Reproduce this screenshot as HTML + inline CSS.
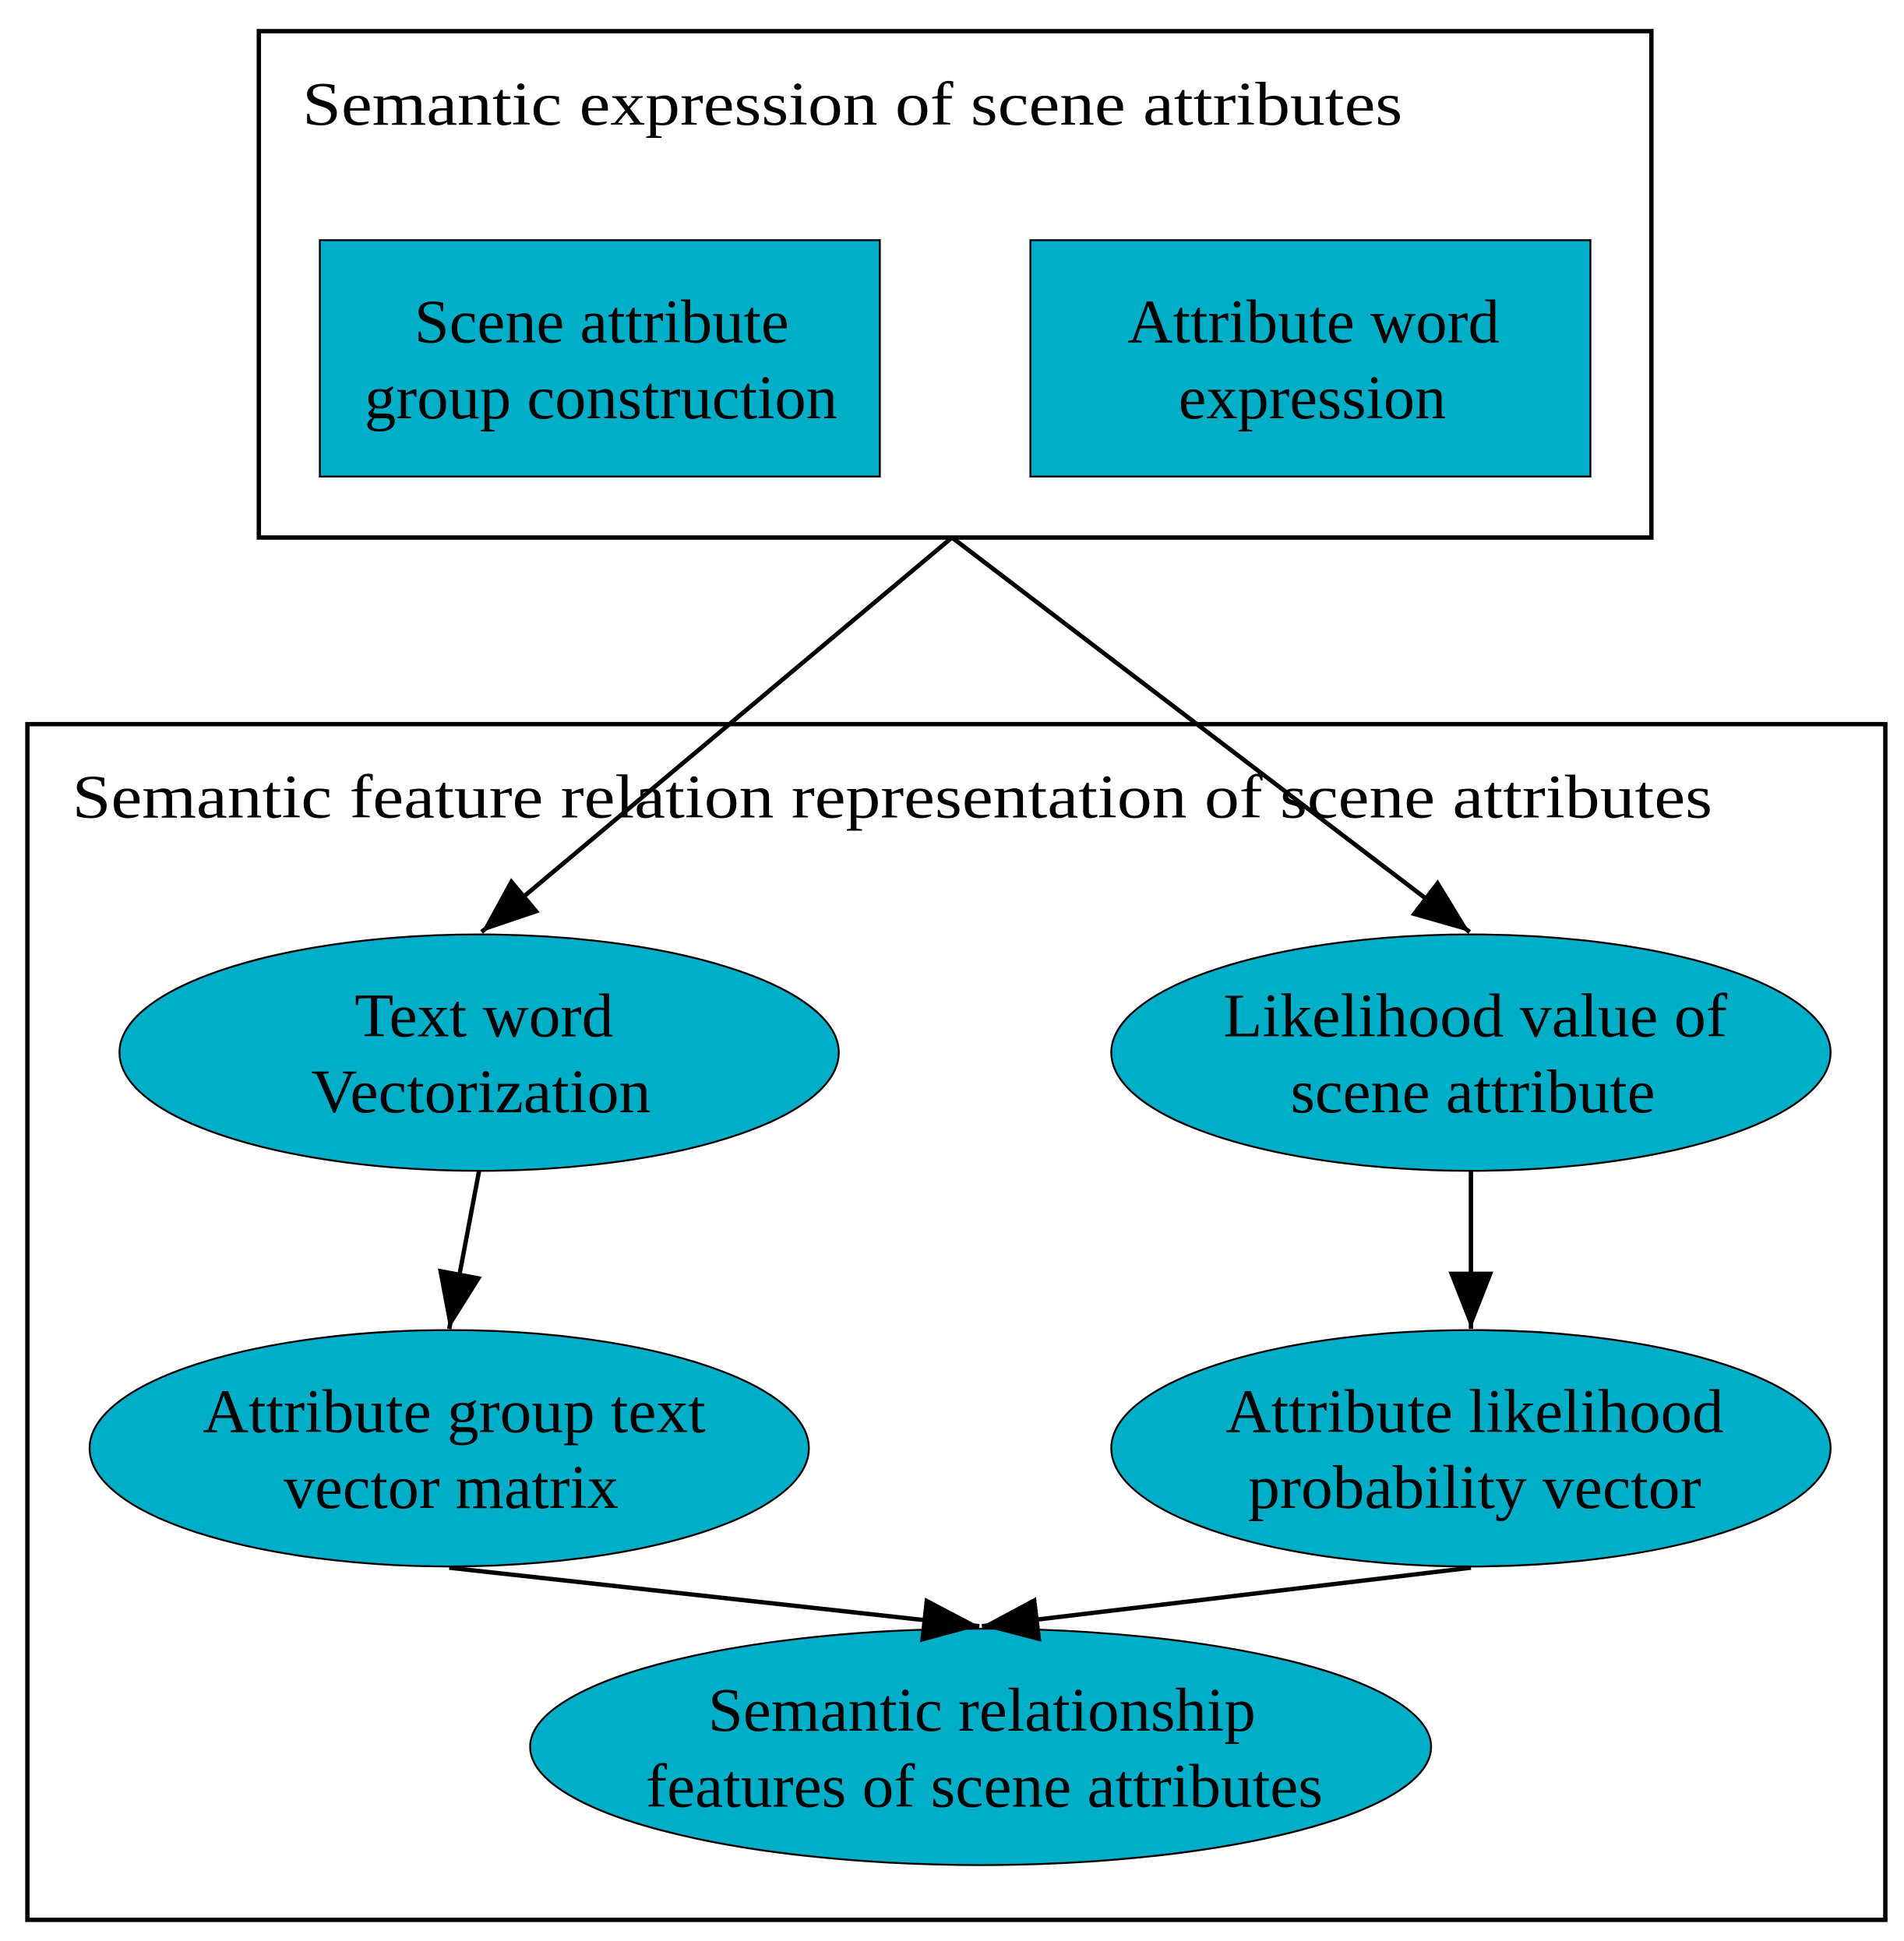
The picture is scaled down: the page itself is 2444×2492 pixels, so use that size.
<!DOCTYPE html>
<html><head><style>html,body{margin:0;padding:0;background:#fff}svg{display:block}</style></head>
<body>
<svg width="2444" height="2492" viewBox="0 0 1530 1560" xmlns="http://www.w3.org/2000/svg" font-family="'Liberation Serif', serif" font-size="50">
<defs>
<marker id="a" markerUnits="userSpaceOnUse" markerWidth="50" markerHeight="40" refX="46" refY="18" orient="auto">
<polygon points="0,0 46,18 0,36" fill="#000"/>
</marker>
</defs>
<rect x="208" y="25" width="1119" height="407" fill="none" stroke="#000" stroke-width="3.5"/>
<text x="243" y="100" textLength="884" lengthAdjust="spacingAndGlyphs">Semantic expression of scene attributes</text>
<rect x="257" y="193" width="450" height="190" fill="#00aec8" stroke="#000" stroke-width="1.5"/>
<text x="333" y="275" textLength="301" lengthAdjust="spacingAndGlyphs">Scene attribute</text>
<text x="293" y="336" textLength="380" lengthAdjust="spacingAndGlyphs">group construction</text>
<rect x="828" y="193" width="450" height="190" fill="#00aec8" stroke="#000" stroke-width="1.5"/>
<text x="906" y="275" textLength="299" lengthAdjust="spacingAndGlyphs">Attribute word</text>
<text x="947" y="336" textLength="215" lengthAdjust="spacingAndGlyphs">expression</text>

<rect x="22" y="582" width="1493" height="961" fill="none" stroke="#000" stroke-width="3.5"/>
<text x="58" y="657" textLength="1318" lengthAdjust="spacingAndGlyphs">Semantic feature relation representation of scene attributes</text>

<g fill="#00aec8" stroke="#000" stroke-width="1.5">
<ellipse cx="385" cy="846" rx="289" ry="95"/>
<ellipse cx="1182" cy="846" rx="289" ry="95"/>
<ellipse cx="361" cy="1164" rx="289" ry="95"/>
<ellipse cx="1182" cy="1164" rx="289" ry="95"/>
<ellipse cx="788" cy="1404" rx="362" ry="95"/>
</g>
<text x="285" y="833" textLength="208" lengthAdjust="spacingAndGlyphs">Text word</text>
<text x="250" y="894" textLength="273" lengthAdjust="spacingAndGlyphs">Vectorization</text>
<text x="983" y="833" textLength="405" lengthAdjust="spacingAndGlyphs">Likelihood value of</text>
<text x="1037" y="894" textLength="293" lengthAdjust="spacingAndGlyphs">scene attribute</text>
<text x="163" y="1151" textLength="404" lengthAdjust="spacingAndGlyphs">Attribute group text</text>
<text x="228" y="1212" textLength="269" lengthAdjust="spacingAndGlyphs">vector matrix</text>
<text x="985" y="1151" textLength="400" lengthAdjust="spacingAndGlyphs">Attribute likelihood</text>
<text x="1003" y="1212" textLength="364" lengthAdjust="spacingAndGlyphs">probability vector</text>
<text x="569" y="1391" textLength="440" lengthAdjust="spacingAndGlyphs">Semantic relationship</text>
<text x="519" y="1452" textLength="544" lengthAdjust="spacingAndGlyphs">features of scene attributes</text>

<g stroke="#000" stroke-width="3.5" fill="none" marker-end="url(#a)">
<line x1="765" y1="432" x2="387" y2="749"/>
<line x1="765" y1="432" x2="1181" y2="749"/>
<line x1="385" y1="941" x2="361" y2="1068"/>
<line x1="1182" y1="941" x2="1182" y2="1068"/>
<line x1="361" y1="1260" x2="787" y2="1307"/>
<line x1="1182" y1="1260" x2="789" y2="1307"/>
</g>
</svg>
</body></html>
